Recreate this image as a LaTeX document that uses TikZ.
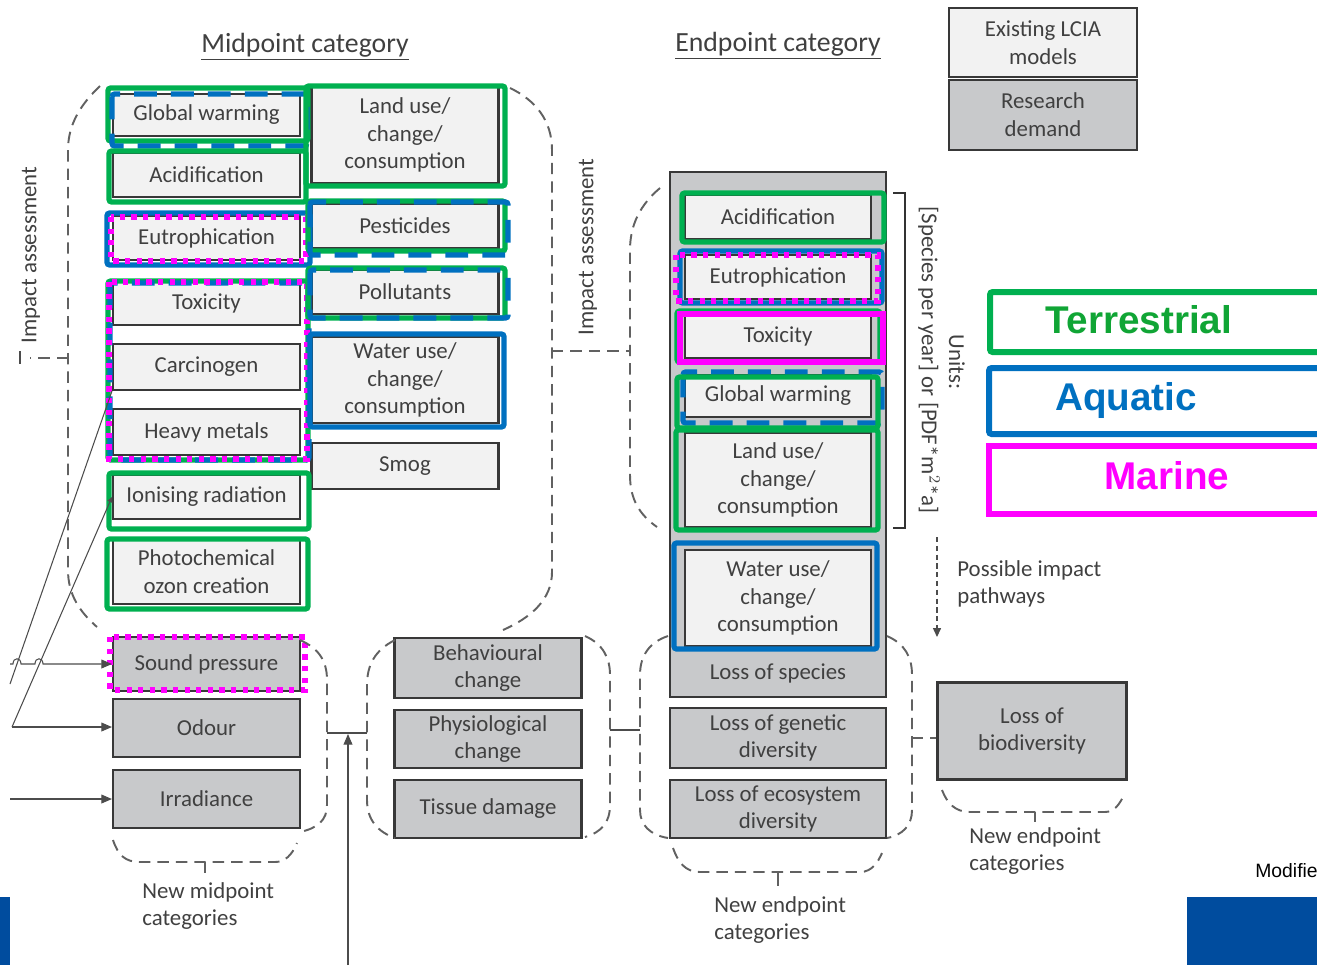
\documentclass[tikz,border=0pt]{standalone}
\usepackage{fontspec}
\setmainfont{Carlito}
\newfontfamily\arialf{Liberation Sans}
\usepackage{tikz}
\usetikzlibrary{arrows.meta}

\definecolor{terr}{HTML}{00B050}
\definecolor{terrtxt}{HTML}{10A535}
\definecolor{aqua}{HTML}{0070C0}
\definecolor{mari}{HTML}{FF00FF}
\definecolor{lightbox}{HTML}{F2F2F2}
\definecolor{darkbox}{HTML}{C8C9CB}
\definecolor{txt}{HTML}{404040}
\definecolor{barblue}{HTML}{004C9E}
\newcommand\bxf{\fontsize{13}{15.8}\selectfont}

\begin{document}
\begin{tikzpicture}[x=0.02cm,y=-0.02cm,
  light/.style={draw=black!78,line width=1.2pt,fill=lightbox,text=txt,align=center,
    inner sep=0pt,font=\bxf,minimum width=3.74cm},
  dark/.style={light,fill=darkbox},
  lbl/.style={text=txt,font=\bxf,align=left,inner sep=0pt},
  ter/.style={draw=terr,line width=3pt,rounded corners=1.5pt},
  aqu/.style={draw=aqua,line width=3pt,rounded corners=1.5pt},
  aqud/.style={aqu,dash pattern=on 13pt off 8pt},
  mar/.style={draw=mari,line width=3pt},
  mard/.style={mar,dash pattern=on 3pt off 3.6pt},
  brk/.style={draw=black!62,line width=1.1pt,dash pattern=on 6.5pt off 4pt},
  con/.style={draw=black!70,line width=0.6pt}]
\useasboundingbox (0,0) rectangle (1317,965);
\clip (0,0) rectangle (1317,965);

% headings
\node[text=txt,font=\fontsize{15.8}{18}\selectfont] (midhead) at (305,47) {\underline{Midpoint category}};
\node[text=txt,font=\fontsize{15.8}{18}\selectfont] (endhead) at (778,46) {\underline{Endpoint category}};

% midpoint boxes
\node[light,minimum height=0.84cm] (glob) at (206.5,115) {Global warming};
\node[light,minimum height=0.88cm] (acid) at (206.5,175) {Acidification};
\node[light,minimum height=0.88cm] (eutro) at (206.5,238) {Eutrophication};
\node[light,minimum height=0.88cm] (toxi) at (206.5,303) {Toxicity};
\node[light,minimum height=0.92cm] (carc) at (206.5,367) {Carcinogen};
\node[light,minimum height=0.92cm] (heavy) at (206.5,432) {Heavy metals};
\node[light,minimum height=0.88cm] (ionis) at (206.5,497) {Ionising radiation};
\node[light,minimum height=1.28cm] (photo) at (206.5,572) {Photochemical\\ozon creation};
\node[dark,minimum height=1.08cm] (sound) at (206.5,664) {Sound pressure};
\node[dark,minimum height=1.16cm] (odour) at (206.5,728) {Odour};
\node[dark,minimum height=1.16cm] (irrad) at (206.5,799) {Irradiance};

\node[light,minimum height=1.92cm] (land) at (405,135) {Land use/\\change/\\consumption};
\node[light,minimum height=0.88cm] (pest) at (405,226) {Pesticides};
\node[light,minimum height=0.88cm] (poll) at (405,292) {Pollutants};
\node[light,minimum height=1.72cm] (water) at (405,380) {Water use/\\change/\\consumption};
\node[light,minimum height=0.92cm] (smog) at (405,466) {Smog};

\node[dark,minimum height=1.2cm] (behav) at (488,668) {Behavioural\\change};
\node[dark,minimum height=1.16cm] (physio) at (488,739) {Physiological\\change};
\node[dark,minimum height=1.16cm] (tissue) at (488,809) {Tissue damage};

% endpoint boxes
\node[dark,minimum width=4.32cm,minimum height=10.5cm] (species) at (778,434.5) {};
\node[lbl] (losssp) at (778,673) {Loss of species};
\node[light,minimum width=3.72cm,minimum height=0.88cm] (eacid) at (778,217) {Acidification};
\node[light,minimum width=3.72cm,minimum height=0.88cm] (eeutro) at (778,277) {Eutrophication};
\node[light,minimum width=3.72cm,minimum height=0.88cm] (etoxi) at (778,336) {Toxicity};
\node[light,minimum width=3.72cm,minimum height=0.84cm] (eglob) at (778,396) {Global warming};
\node[light,minimum width=3.72cm,minimum height=1.88cm] (eland) at (778,480) {Land use/\\change/\\consumption};
\node[light,minimum width=3.72cm,minimum height=1.92cm] (ewater) at (778,598) {Water use/\\change/\\consumption};
\node[dark,minimum width=4.32cm,minimum height=1.2cm] (egen) at (778,738) {Loss of genetic\\diversity};
\node[dark,minimum width=4.32cm,minimum height=1.16cm] (eeco) at (778,809) {Loss of ecosystem\\diversity};
\node[dark,minimum width=3.78cm,minimum height=1.94cm] (biodiv) at (1032,731) {Loss of\\biodiversity};

% key boxes
\node[light,minimum width=3.76cm,minimum height=1.38cm] (exist) at (1043,42.5) {Existing LCIA\\models};
\node[dark,minimum width=3.76cm,minimum height=1.4cm] (resdem) at (1043,115) {Research\\demand};

% coloured frames, midpoint
\draw[ter] (108,88) rectangle (308,141);
\draw[aqud] (112,94) rectangle (307,146);
\draw[ter] (109,151) rectangle (306,202);
\draw[aqu] (107,213) rectangle (310,265);
\draw[mard] (111,217) rectangle (306,261);
\draw[ter] (108,281) rectangle (308,460);
\draw[aqud] (110,283) rectangle (309,460);
\draw[mard] (109,282) rectangle (307,459);
\draw[ter] (109,473) rectangle (309,529);
\draw[ter] (107,539) rectangle (308,609);
\draw[mard] (110,637) rectangle (305,690);
\draw[ter] (306,86) rectangle (505,186);
\draw[ter] (308,201) rectangle (505,251);
\draw[aqud] (310,202) rectangle (508,255);
\draw[ter] (308,268) rectangle (505,318);
\draw[aqud] (310,270) rectangle (508,318);
\draw[aqu] (310,334) rectangle (504,427);

% coloured frames, endpoint
\draw[ter] (682,193) rectangle (884,242);
\draw[aqu] (680,251) rectangle (882,303);
\draw[mard] (676,255) rectangle (878,301);
\draw[ter] (677,311) rectangle (880,362);
\draw[mar] (680,314) rectangle (883,362);
\draw[aqud] (683,372) rectangle (882,423);
\draw[ter] (677,377) rectangle (878,428);
\draw[ter] (676,430) rectangle (878,530);
\draw[aqu] (674,543) rectangle (877,649);

% dashed brackets
\draw[brk] (100,86) .. controls (80,105) and (68,125) .. (68,150) -- (68,570)
  .. controls (68,595) and (80,612) .. (97,627);
\draw[brk] (510,88) .. controls (535,100) and (552,120) .. (552,150) -- (552,572)
  .. controls (552,600) and (530,618) .. (503,630);
\draw[brk] (68,358) -- (30,358);
\draw[con,line width=1pt] (20,351) -- (20,364);
\node[lbl,rotate=90] (ialeft) at (31,255) {Impact assessment};
\draw[brk] (552,351) -- (630,351);
\node[lbl,rotate=90] (iamid) at (588,247) {Impact assessment};
\draw[brk] (660,188) .. controls (640,205) and (630,225) .. (630,250) -- (630,475)
  .. controls (630,500) and (640,515) .. (657,527);

\draw[brk] (300,640) .. controls (318,648) and (327,660) .. (327,680) -- (327,805)
  .. controls (327,820) and (318,828) .. (300,832);
\draw[brk] (113,840) .. controls (118,855) and (125,862) .. (140,862) -- (275,862)
  .. controls (285,862) and (292,855) .. (297,843);
\draw[brk,solid] (205,862) -- (205,873);
\node[lbl,anchor=north west] (newmid) at (142,882) {New midpoint\\categories};

\draw[brk] (395,640) .. controls (375,650) and (367,665) .. (367,685) -- (367,800)
  .. controls (367,820) and (378,832) .. (395,838);
\draw[brk] (585,636) .. controls (603,644) and (610,658) .. (610,675) -- (610,805)
  .. controls (610,822) and (602,832) .. (585,837);

\draw[brk] (668,636) .. controls (650,642) and (640,655) .. (640,675) -- (640,810)
  .. controls (640,825) and (650,835) .. (668,838);
\draw[brk] (887,636) .. controls (905,644) and (912,657) .. (912,675) -- (912,810)
  .. controls (912,825) and (903,835) .. (887,838);
\draw[brk] (673,848) .. controls (678,862) and (685,872) .. (700,872) -- (860,872)
  .. controls (872,872) and (878,862) .. (882,853);
\draw[brk,solid] (778,872) -- (778,886);
\node[lbl,anchor=north west] (newend) at (714,896) {New endpoint\\categories};

\draw[brk] (942,790) .. controls (947,803) and (955,812) .. (970,812) -- (1105,812)
  .. controls (1115,812) and (1120,803) .. (1124,795);
\draw[brk,solid] (1035,812) -- (1035,822);
\node[lbl,anchor=north west] (newend2) at (969,827) {New endpoint\\categories};
\draw[brk] (912,738) -- (biodiv.west |- 0,738);

% units
\draw[con,line width=1.1pt,draw=black!80] (893,193) -- (905,193) -- (905,528) -- (893,528);
\node[lbl,rotate=-90] (units) at (929,360) {[Species per year] or [PDF*m$^2$*a]};
\node[lbl,rotate=-90] (unitshd) at (957,362) {Units:};
\coordinate (pathtop) at (937,537);
\coordinate (pathbot) at (937,637);
\draw[con,dash pattern=on 3pt off 2pt,-{Triangle[length=5pt,width=4.5pt]}] (pathtop) -- (pathbot);
\node[lbl,anchor=north west] (pathlbl) at (957,560) {Possible impact\\pathways};

% links between groups
\draw[con] (327,733) -- (367,733);
\coordinate (upfoot) at (348,965);
\draw[con,-{Triangle[length=6pt,width=5pt]}] (upfoot) -- (348,734);
\draw[con] (610,730) -- (640,730);

% inputs from the left
\coordinate (in1) at (10,684);
\coordinate (in2) at (12,727);
\coordinate (in3) at (10,664);
\coordinate (in4) at (10,799);
\draw[con] (in1) -- (carc.south west);
\draw[con,-{Triangle[length=3pt,width=3pt]}] (in2) -- (ionis.west);
\draw[con,-{Triangle[length=6pt,width=5pt]}] (in3) -- (13,664)
  .. controls (13,657) and (21,657) .. (21,664) -- (35,664)
  .. controls (35,657) and (43,657) .. (43,664) -- (sound.west);
\draw[con,-{Triangle[length=6pt,width=5pt]}] (in2) -- (odour.west |- in2);
\draw[con,-{Triangle[length=6pt,width=5pt]}] (in4) -- (irrad.west);

% legend
\draw[ter,line width=3.4pt] (990,292) rectangle (1340,352);
\node[text=terrtxt,font=\arialf\bfseries\fontsize{22}{26}\selectfont] (terlbl) at (1139,320) {Terrestrial};
\draw[aqu,line width=3.4pt] (989,368) rectangle (1340,434);
\node[text=aqua,font=\arialf\bfseries\fontsize{22}{26}\selectfont] (aqulbl) at (1126,400) {Aquatic};
\draw[mar,line width=3.4pt] (989,446) rectangle (1340,514);
\node[text=mari,font=\arialf\bfseries\fontsize{22}{26}\selectfont] (marlbl) at (1167,476) {Marine};

% page furniture
\fill[barblue] (0,897) rectangle (10,965);
\fill[barblue] (1187,897) rectangle (1317,965);
\node[anchor=base west,inner sep=0pt,font=\arialf\fontsize{11}{13}\selectfont] (modnote) at (1255,877) {Modifie};
\end{tikzpicture}
\end{document}
